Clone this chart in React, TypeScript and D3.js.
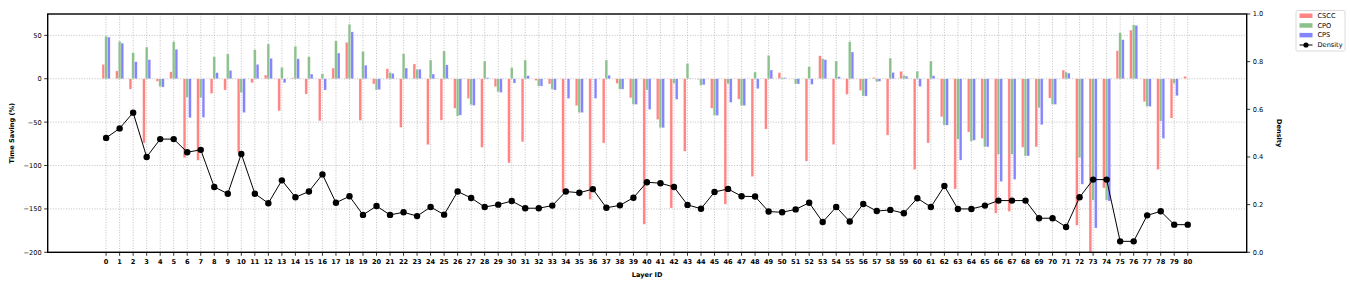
import React from "react";
import * as d3 from "d3";

const layers = d3.range(0, 81);

const cscc = [
  16.5, 9, -12, -74, -3, 8, -91, -94, -17, -13, -85, -4.6, 4.2, -37, 1.2, -17.7, -48.5, 12.3, 42, -48,
  -6, 11.5, -56, 17, -76, -47.7, -34, -22.7, -79, -9.2, -97, -72.7, -2, -6, -130, -31, -139, -74, -5.4, -22,
  -167.7, -47, -149, -83.5, -0.8, -34, -144.6, -23.5, -112.7, -58, 7, -0.4, -95, 26.5, -75.8, -18, -13.5, 1.5, -65, 8.5,
  -104.6, -74, -43.8, -127, -61.5, -68.8, -155, -153, -79, -78.5, -22.3, 10, -169, -205, -125.8, 32.3, 56, -26.5, -104.6, -45.4,
  2.7,
];

const cpo = [
  49, 43, 30, 36.5, -9, 42.7, -21.5, -22, 25.4, 28.5, -16, 33.5, 40, 13, 37.3, 25.4, 5.8, 43.5, 62.7, 31.5,
  -13, 7.3, 28.8, 11, 21.5, 32, -43, -30, 20.4, -15, 12.7, 21.5, -8.5, -12, 0, -39, 0, 21.5, -12, -29.6,
  -13, -56.5, -5.4, 17.7, -7.7, -42.3, -5.8, -31, 7.7, 27, 1.5, -6, 13.8, 23, 20.4, 42.7, -20, -3.5, 23.8, 3.8,
  8.8, 20.4, -53.5, -69.6, -72, -78.5, -87, -87, -89, -33.5, -29.6, 7.7, -91, -140, -140, 53, 62, -32, -48.8, -5.4,
  0,
];

const cps = [
  48, 41, 19.6, 22, -9.6, 34, -45, -44.6, 7, 9.6, -39, 16.5, 23.5, -4.6, 23, 5.4, -13, 29.6, 54, 15.6,
  -12.5, 6.2, 12.3, 11, 5.4, 16, -42, -30.8, 1.2, -15.8, -5, 3.5, -8.5, -13, -22.7, -39, -22.7, 4, -12, -29.6,
  -35.4, -56.5, -23.8, 0.5, -7, -42.3, -27.3, -31, -11.5, 10, 1.2, -6, -6.5, 22, 2.3, 30.8, -20, -3, 7.3, 3,
  -9, 3.5, -53.5, -93.8, -70.8, -78.5, -118.5, -116, -89, -53, -29.6, 6.5, -121.5, -172, -141, 45, 61.5, -32, -68.8, -19.6,
  0,
];

const density = [
  0.48, 0.52, 0.586, 0.40, 0.475, 0.475, 0.42, 0.43, 0.274, 0.246, 0.413, 0.246, 0.206, 0.302, 0.231, 0.255, 0.327, 0.208, 0.235, 0.157,
  0.194, 0.157, 0.168, 0.152, 0.19, 0.158, 0.255, 0.228, 0.19, 0.2, 0.215, 0.185, 0.185, 0.196, 0.255, 0.25, 0.265, 0.187, 0.197, 0.229,
  0.294, 0.29, 0.274, 0.199, 0.183, 0.253, 0.266, 0.235, 0.234, 0.171, 0.168, 0.18, 0.208, 0.127, 0.19, 0.129, 0.203, 0.173, 0.178, 0.164,
  0.227, 0.19, 0.278, 0.182, 0.182, 0.196, 0.217, 0.217, 0.217, 0.143, 0.143, 0.106, 0.231, 0.305, 0.305, 0.046, 0.046, 0.155, 0.172, 0.116,
  0.116,
];

const leftTicks = [-200, -150, -100, -50, 0, 50];
const rightTicks = [0, 0.2, 0.4, 0.6, 0.8, 1.0];

const series = [
  { name: "CSCC", values: cscc, color: "#ff8484", offset: -0.2 },
  { name: "CPO", values: cpo, color: "#8cc08c", offset: 0 },
  { name: "CPS", values: cps, color: "#8484ff", offset: 0.2 },
];

const W = 1350;
const H = 289;
const margin = { top: 14, right: 103.3, bottom: 36.7, left: 47.7 };
const font = "DejaVu Sans, sans-serif";

export default function App() {
  const x = d3
    .scaleLinear()
    .domain([-4.32, 84.36])
    .range([margin.left, W - margin.right]);
  const y = d3
    .scaleLinear()
    .domain([-200, 74.6])
    .range([H - margin.bottom, margin.top]);
  const y2 = d3
    .scaleLinear()
    .domain([0, 1])
    .range([H - margin.bottom, margin.top]);

  const barW = x(0.2) - x(0);
  const x0 = margin.left;
  const x1 = W - margin.right;
  const yTop = margin.top;
  const yBot = H - margin.bottom;

  const line = d3
    .line<number>()
    .x((d, i) => x(layers[i]))
    .y((d) => y2(d));

  return (
    <svg
      width={W}
      height={H}
      style={{ position: "absolute", left: 0, top: 0, background: "#fff" }}
      fontFamily={font}
    >
      <defs>
        <clipPath id="plot">
          <rect x={x0} y={yTop} width={x1 - x0} height={yBot - yTop} />
        </clipPath>
      </defs>

      {/* grid */}
      <g stroke="#b0b0b0" strokeWidth={0.8} strokeDasharray="1,1.6">
        {layers.map((l) => (
          <line key={"gx" + l} x1={x(l)} x2={x(l)} y1={yTop} y2={yBot} />
        ))}
        {leftTicks.map((t) => (
          <line key={"gy" + t} x1={x0} x2={x1} y1={y(t)} y2={y(t)} />
        ))}
      </g>

      {/* bars */}
      <g clipPath="url(#plot)">
        {series.map((s) =>
          s.values.map((v, i) => (
            <rect
              key={s.name + i}
              x={x(layers[i] + s.offset) - barW / 2}
              y={Math.min(y(v), y(0))}
              width={barW}
              height={Math.abs(y(v) - y(0))}
              fill={s.color}
              stroke="#ffffff"
              strokeOpacity={0.5}
              strokeWidth={0.5}
            />
          ))
        )}
      </g>

      {/* density */}
      <path d={line(density) || ""} fill="none" stroke="#000" strokeWidth={1} />
      {density.map((d, i) => (
        <circle key={"d" + i} cx={x(layers[i])} cy={y2(d)} r={3.2} fill="#000" />
      ))}

      {/* frame */}
      <rect x={x0} y={yTop} width={x1 - x0} height={yBot - yTop} fill="none" stroke="#000" strokeWidth={1.4} />

      {/* x axis */}
      <g fontSize={6.6} fontWeight="bold" textAnchor="middle">
        {layers.map((l) => (
          <g key={"xt" + l}>
            <line x1={x(l)} x2={x(l)} y1={yBot} y2={yBot + 3.5} stroke="#000" strokeWidth={0.8} />
            <text x={x(l)} y={yBot + 12}>
              {l}
            </text>
          </g>
        ))}
      </g>
      <text x={(x0 + x1) / 2} y={277} fontSize={6.6} fontWeight="bold" textAnchor="middle">
        Layer ID
      </text>

      {/* left axis */}
      <g fontSize={6.6} textAnchor="end">
        {leftTicks.map((t) => (
          <g key={"yl" + t}>
            <line x1={x0 - 3.5} x2={x0} y1={y(t)} y2={y(t)} stroke="#000" strokeWidth={0.8} />
            <text x={x0 - 6} y={y(t) + 2.4}>
              {t < 0 ? "\u2212" + Math.abs(t) : t}
            </text>
          </g>
        ))}
      </g>
      <text
        transform={`translate(14,${(yTop + yBot) / 2}) rotate(-90)`}
        fontSize={6.6}
        fontWeight="bold"
        textAnchor="middle"
      >
        Time Saving (%)
      </text>

      {/* right axis */}
      <g fontSize={6.6} textAnchor="start">
        {rightTicks.map((t) => (
          <g key={"yr" + t}>
            <line x1={x1} x2={x1 + 3.5} y1={y2(t)} y2={y2(t)} stroke="#000" strokeWidth={0.8} />
            <text x={x1 + 6} y={y2(t) + 2.4}>
              {t.toFixed(1)}
            </text>
          </g>
        ))}
      </g>
      <text
        transform={`translate(1277,${(yTop + yBot) / 2}) rotate(90)`}
        fontSize={6.6}
        fontWeight="bold"
        textAnchor="middle"
      >
        Density
      </text>

      {/* legend */}
      <g fontSize={6.6}>
        <rect x={1296} y={10.5} width={49} height={40.5} rx={1.5} fill="#fff" stroke="#d0d0d0" strokeWidth={0.8} />
        {series.map((s, i) => (
          <g key={"lg" + s.name}>
            <rect x={1299.5} y={13.5 + i * 9.7} width={13} height={4.5} fill={s.color} />
            <text x={1317.5} y={18 + i * 9.7}>
              {s.name}
            </text>
          </g>
        ))}
        <line x1={1299.5} x2={1312.5} y1={45} y2={45} stroke="#000" strokeWidth={1} />
        <circle cx={1306} cy={45} r={2.6} fill="#000" />
        <text x={1317.5} y={47.3}>
          Density
        </text>
      </g>
    </svg>
  );
}
